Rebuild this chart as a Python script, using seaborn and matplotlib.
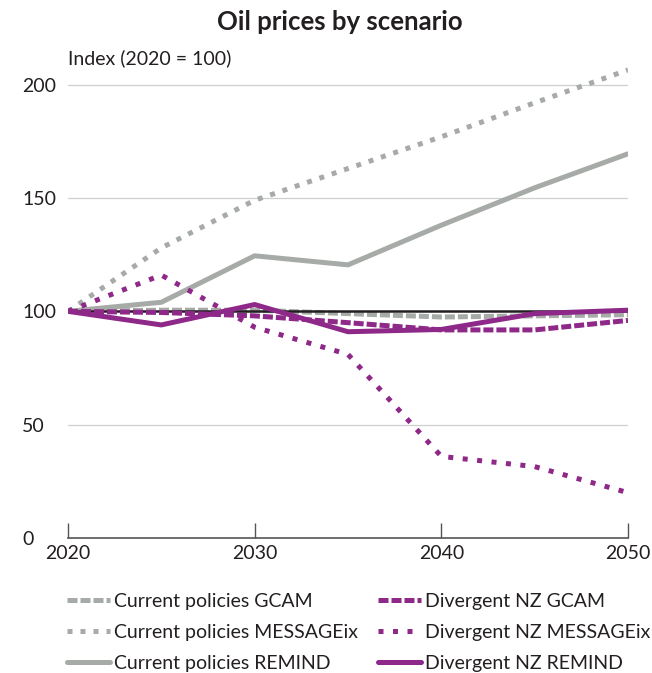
import matplotlib
matplotlib.use("Agg")
import matplotlib.pyplot as plt
import seaborn as sns
import pandas as pd

# data (index, 2020 = 100)
years = [2020, 2025, 2030, 2035, 2040, 2045, 2050]
cp_gcam = [100, 100.5, 100.5, 99, 97.5, 98, 98.5]
cp_message = [100, 128, 149, 163, 177, 192, 206.5]
cp_remind = [100, 104, 124.5, 120.5, 138, 154.5, 169.5]
nz_gcam = [100, 99.5, 98, 95, 91.8, 91.8, 96]
nz_message = [100, 116, 93, 81, 36, 31.5, 20]
nz_remind = [100, 94, 103, 91, 92, 99, 100.5]

GREY = "#a6aba7"
PURPLE = "#8e2889"
DARK = "#231f20"
FS = 14

sns.set_theme(style="white")
plt.rcParams['font.family'] = ['Lato', 'DejaVu Sans']
plt.rcParams['text.color'] = DARK

fig = plt.figure(figsize=(6.52, 6.73), dpi=100)
ax = fig.add_axes([68 / 652, 135 / 673, 560 / 652, 476 / 673])

for v in [50, 150, 200]:
    ax.axhline(v, color="#cfcfcf", lw=0.9, zorder=1)

series = [
    ("Current policies GCAM", cp_gcam, GREY, (0, (2.0, 0.6))),
    ("Current policies MESSAGEix", cp_message, GREY, (0, (1.0, 1.6))),
    ("Current policies REMIND", cp_remind, GREY, "-"),
    ("Divergent NZ GCAM", nz_gcam, PURPLE, (0, (2.0, 0.6))),
    ("Divergent NZ MESSAGEix", nz_message, PURPLE, (0, (1.0, 1.9))),
    ("Divergent NZ REMIND", nz_remind, PURPLE, "-"),
]

for i, (name, vals, col, ls) in enumerate(series):
    df = pd.DataFrame({"year": years, "value": vals})
    sns.lineplot(data=df, x="year", y="value", ax=ax, color=col, lw=3.6,
                 linestyle=ls, label=name, zorder=3 + (i >= 3))
    if i == 0:
        ax.axhline(100, color=DARK, lw=1.8, zorder=3.5)

handles, labels = ax.get_legend_handles_labels()
ax.get_legend().remove()

ax.set_xlim(2020, 2050)
ax.set_ylim(0, 210)
ax.set_xticks([2020, 2030, 2040, 2050])
ax.set_yticks([0, 50, 100, 150, 200])
ax.set_xlabel("")
ax.set_ylabel("")
for s in ["left", "top", "right"]:
    ax.spines[s].set_visible(False)
ax.spines["bottom"].set_color("#555555")
ax.spines["bottom"].set_linewidth(1.2)
ax.tick_params(axis="x", direction="in", length=11, width=1.0, color="#555555",
               labelsize=FS, labelcolor=DARK, pad=5, bottom=True)
ax.tick_params(axis="y", length=0, labelsize=FS, labelcolor=DARK, pad=33)
for t in ax.get_yticklabels():
    t.set_horizontalalignment("left")

fig.text(340 / 652, 1 - 22 / 673, "Oil prices by scenario", ha="center", va="center",
         fontsize=18.5, fontweight="bold")
fig.text(68 / 652, 1 - 58 / 673, "Index (2020 = 100)", ha="left", va="center",
         fontsize=FS)

# two single-column legends so each column sits where the reference has it
for k, x0 in enumerate([67, 378]):
    fig.legend(handles[3 * k:3 * k + 3], labels[3 * k:3 * k + 3],
               loc="upper left", bbox_to_anchor=(x0 / 652, 1 - 593 / 673),
               frameon=False, fontsize=FS, handlelength=2.2, handletextpad=0.22,
               borderpad=0, borderaxespad=0, labelspacing=0.72)

fig.savefig("out.png", dpi=100)
